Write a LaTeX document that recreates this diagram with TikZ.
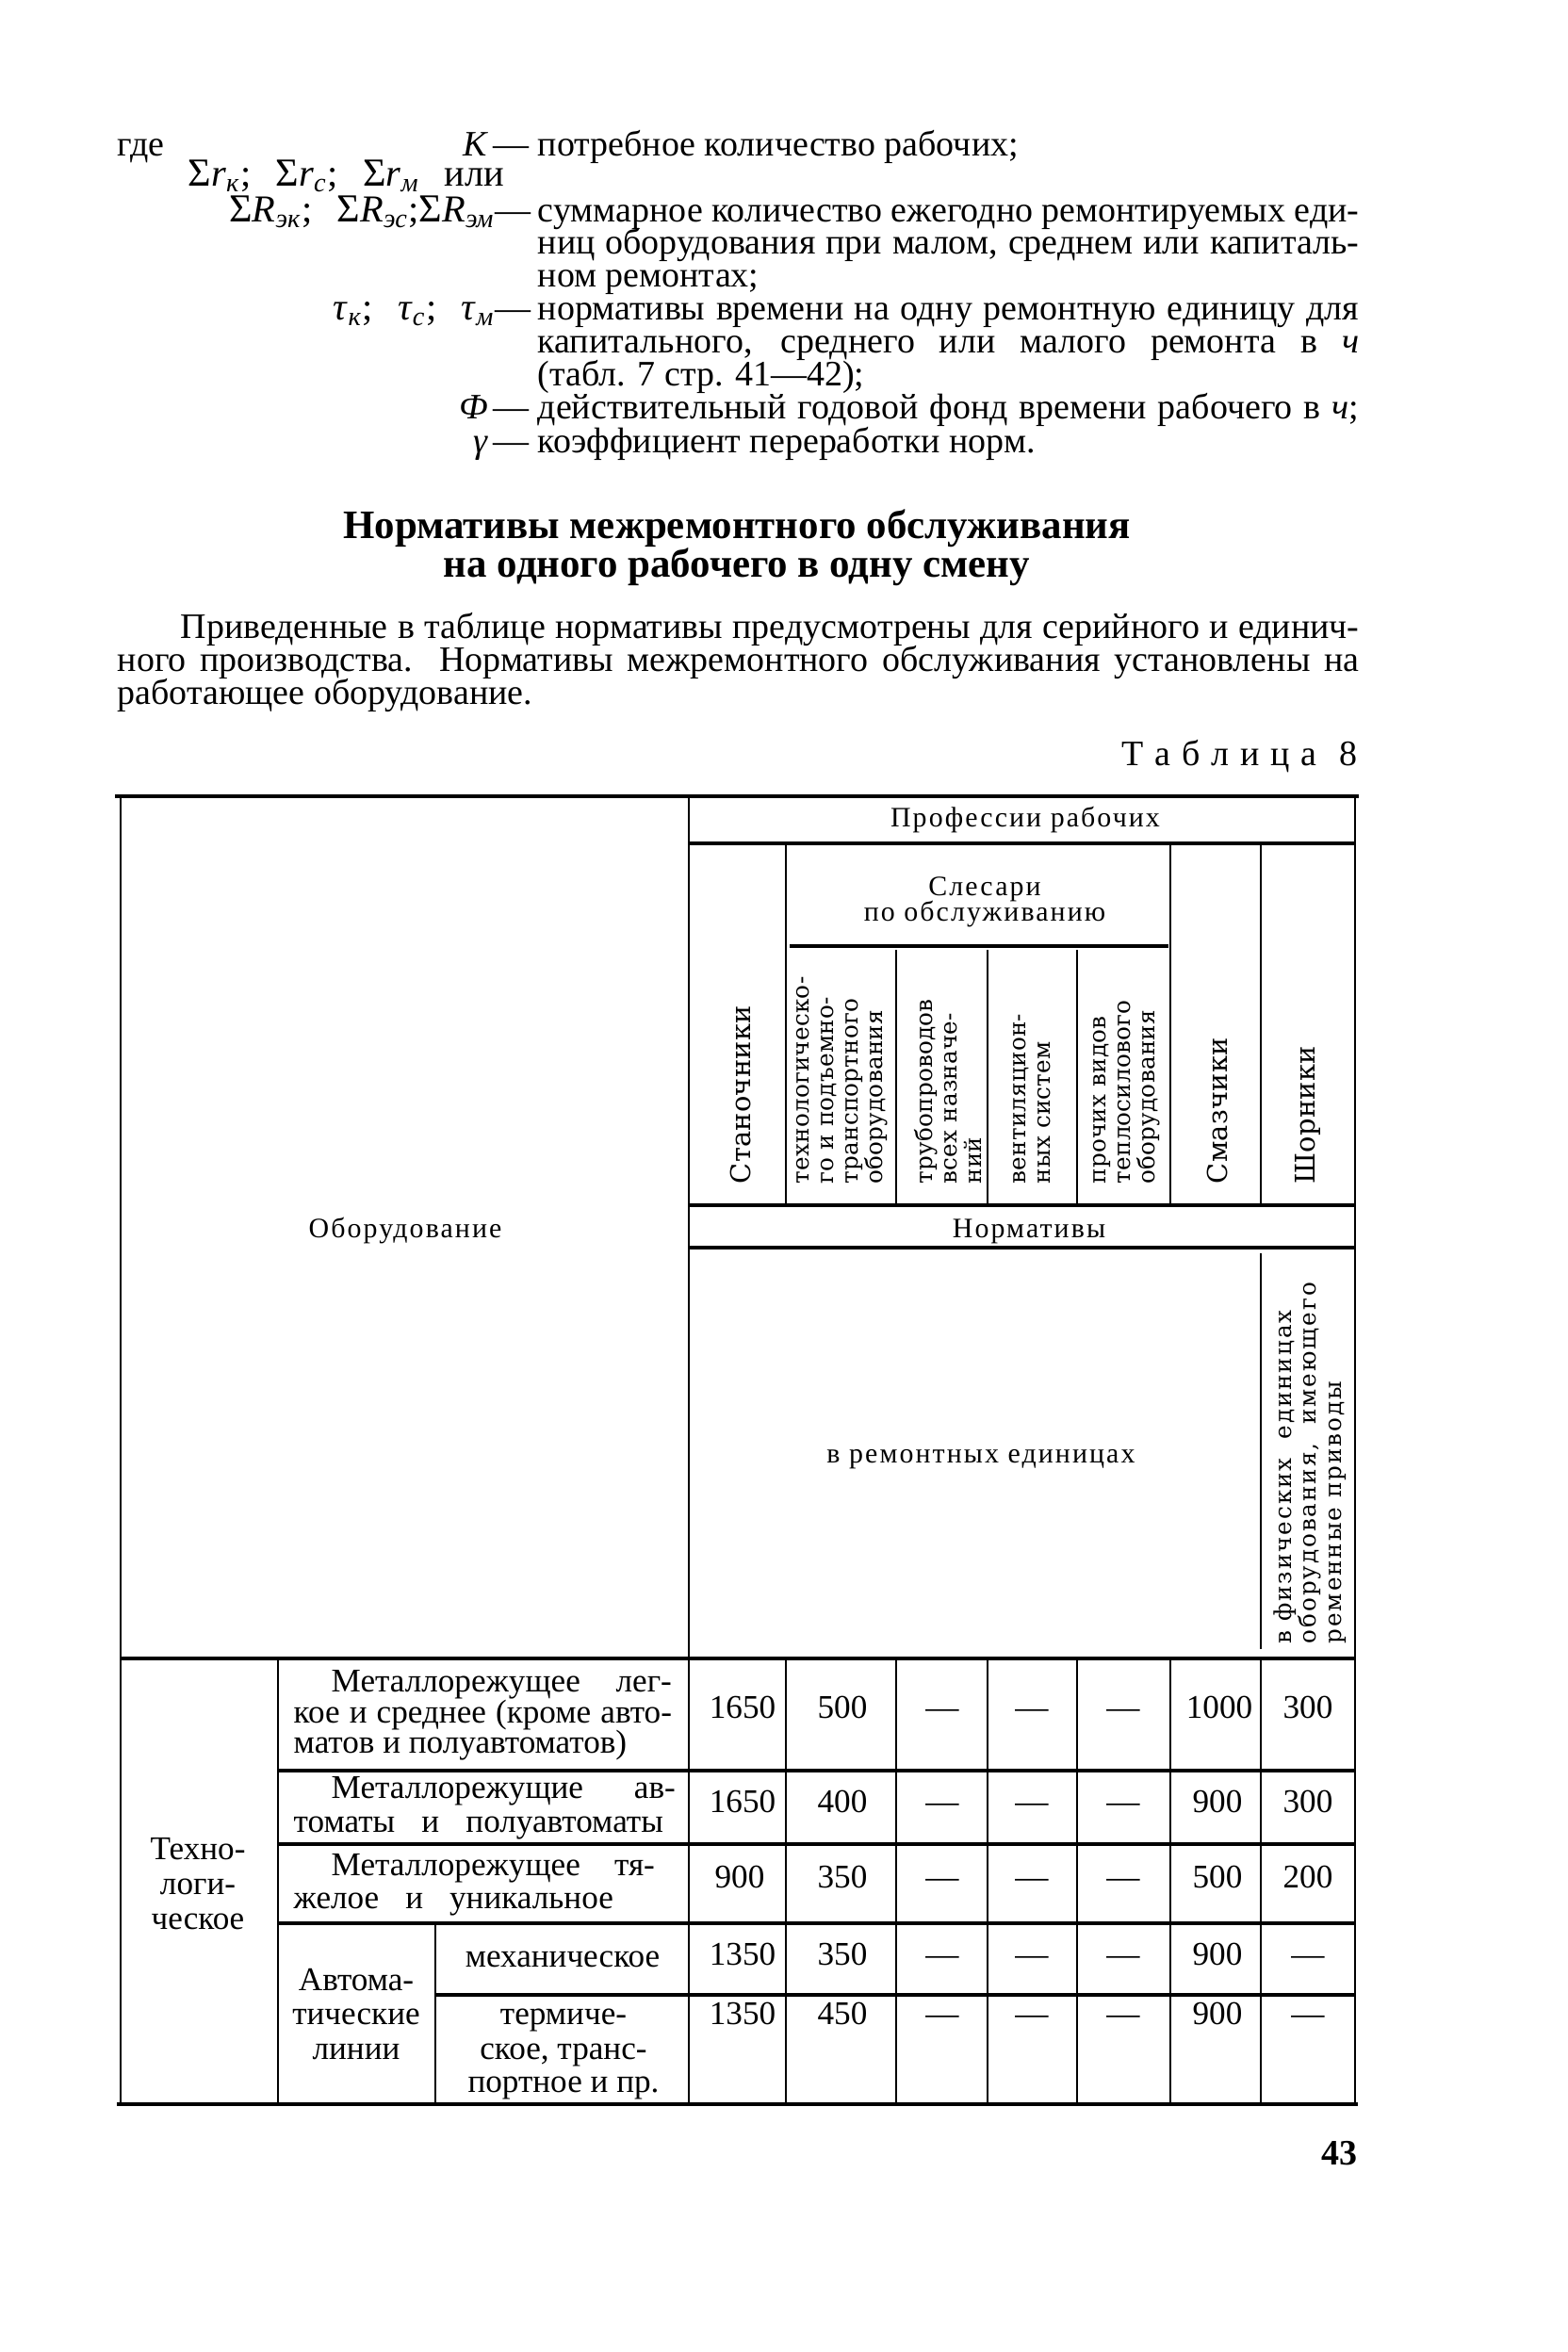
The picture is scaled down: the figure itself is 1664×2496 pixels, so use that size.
\documentclass[tikz,border=0pt]{standalone}
\usepackage{amsmath}
\usepackage{fontspec}
\setmainfont{Liberation Serif}
\newfontfamily\vertfont[LetterSpace=1]{DejaVu Serif}
\newfontfamily\vertwide[LetterSpace=8]{DejaVu Serif}
\newfontfamily\spaced[LetterSpace=7]{Liberation Serif}
\newcommand{\jl}[2]{\makebox[#1][s]{#2}}
\newcommand{\sig}{{\fontsize{12}{12}\selectfont Σ}}
\newcommand{\gap}{\hspace{0.65em}}

\begin{document}
\begin{tikzpicture}[x=0.01cm, y=-0.01cm,
  txt/.style={inner sep=0pt, anchor=base west, font=\fontsize{10.8}{12}\selectfont},
  rgt/.style={txt, anchor=base east},
  sym/.style={inner sep=0pt, anchor=base east, font=\fontsize{11.5}{12}\selectfont},
  head/.style={inner sep=0pt, anchor=base, font=\fontsize{12.2}{13}\selectfont\bfseries},
  hdr/.style={inner sep=0pt, anchor=base, font=\spaced\fontsize{8.5}{9}\selectfont},
  cell/.style={inner sep=0pt, anchor=base west, font=\fontsize{10}{11}\selectfont},
  num/.style={cell, anchor=base},
  vtxt/.style={inner sep=0pt, rotate=90, anchor=west, align=left, font=\vertfont\fontsize{7}{7.4}\selectfont},
  vbig/.style={vtxt, font=\vertfont\fontsize{8.2}{9}\selectfont},
  rule/.style={line width=1.1pt},
  thin/.style={line width=0.6pt}]
\fill[white] (0,0) rectangle (1664,2496);
\useasboundingbox (0,0) rectangle (1664,2496);

% definitions
\node[txt] (gde) at (124,165) {где};
\node[rgt] (kk) at (519,165) {\textit{К}};
\node[rgt] (d1) at (562,165) {—};
\node[txt] (t1) at (570,165) {потребное количество рабочих;};
\node[sym, anchor=base west] (sr) at (199,197) {\sig\textit{r}\textsubscript{\textit{к}};\gap\sig\textit{r}\textsubscript{\textit{с}};\gap\sig\textit{r}\textsubscript{\textit{м}}\gap или};
\node[sym] (sR) at (526,235) {\sig\textit{R}\textsubscript{\textit{эк}};\gap\sig\textit{R}\textsubscript{\textit{эс}};\sig\textit{R}\textsubscript{\textit{эм}}};
\node[rgt] (d2) at (564,235) {—};
\node[txt] (t2) at (570,235) {\jl{8.71cm}{суммарное количество ежегодно ремонтируемых еди-}};
\node[txt] (t3) at (570,269) {\jl{8.71cm}{ниц оборудования при малом, среднем или капиталь-}};
\node[txt] (t4) at (570,304) {ном ремонтах;};
\node[sym] (tau) at (526,339) {\textit{τ}\textsubscript{\textit{к}};\gap\textit{τ}\textsubscript{\textit{с}};\gap\textit{τ}\textsubscript{\textit{м}}};
\node[rgt] (d3) at (564,339) {—};
\node[txt] (t5) at (570,339) {\jl{8.71cm}{нормативы времени на одну ремонтную единицу для}};
\node[txt] (t6) at (570,374) {\jl{8.71cm}{капитального, среднего или малого ремонта в \textit{ч}}};
\node[txt] (t7) at (570,409) {(табл. 7 стр. 41—42);};
\node[rgt] (ff) at (519,444) {\textit{Ф}};
\node[rgt] (d4) at (562,444) {—};
\node[txt] (t8) at (570,444) {\jl{8.71cm}{действительный годовой фонд времени рабочего в \textit{ч};}};
\node[rgt] (gam) at (519,480) {\textit{γ}};
\node[rgt] (d5) at (562,480) {—};
\node[txt] (t9) at (570,480) {коэффициент переработки норм.};

% heading and paragraph
\node[head] (h1) at (782,571) {Нормативы межремонтного обслуживания};
\node[head] (h2) at (782,612) {на одного рабочего в одну смену};
\node[txt] (p1) at (191,677) {\jl{12.50cm}{Приведенные в таблице нормативы предусмотрены для серийного и единич-}};
\node[txt] (p2) at (124,712) {\jl{13.17cm}{ного производства. Нормативы межремонтного обслуживания установлены на}};
\node[txt] (p3) at (124,747) {работающее оборудование.};
\node[rgt] (tab) at (1441,812) {\jl{2.50cm}{Т а б л и ц а \ 8}};

% table rules
\draw[rule] (122,845) -- (1442,845);
\draw[thin] (128,845) -- (128,2233);
\draw[thin] (1438,845) -- (1438,2233);
\draw[thin] (731,845) -- (731,2233);
\draw[rule] (731,895) -- (1438,895);
\draw[thin] (834,895) -- (834,1279);
\draw[thin] (1242,895) -- (1242,1279);
\draw[thin] (1338,895) -- (1338,1279);
\draw[rule] (838,1004) -- (1240,1004);
\draw[thin] (951,1008) -- (951,1279);
\draw[thin] (1048,1008) -- (1048,1279);
\draw[thin] (1143,1008) -- (1143,1279);
\draw[rule] (731,1279) -- (1438,1279);
\draw[rule] (731,1324) -- (1438,1324);
\draw[thin] (1338,1330) -- (1338,1750);
\draw[rule] (128,1760) -- (1438,1760);
\draw[thin] (295,1760) -- (295,2233);
\draw[thin] (834,1760) -- (834,2233);
\draw[thin] (951,1760) -- (951,2233);
\draw[thin] (1048,1760) -- (1048,2233);
\draw[thin] (1143,1760) -- (1143,2233);
\draw[thin] (1242,1760) -- (1242,2233);
\draw[thin] (1338,1760) -- (1338,2233);
\draw[rule] (295,1879) -- (1438,1879);
\draw[rule] (295,1957) -- (1438,1957);
\draw[rule] (295,2041) -- (1438,2041);
\draw[thin] (462,2041) -- (462,2233);
\draw[rule] (462,2117) -- (1438,2117);
\draw[rule] (124,2233) -- (1441,2233);

% table head
\node[hdr] (prof) at (1088,877) {Профессии рабочих};
\node[hdr] (sles) at (1045,950) {Слесари};
\node[hdr] (obsl) at (1045,977) {по обслуживанию};
\node[vbig] (stan) at (786,1257) {Станочники};
\node[vtxt] (tehn) at (894,1257) {технологическо-\\го и подъемно-\\транспортного\\оборудования};
\node[vtxt] (trub) at (1006,1257) {трубопроводов\\всех назначе-\\ний};
\node[vtxt] (vent) at (1095,1257) {вентиляцион-\\ных систем};
\node[vtxt] (proch) at (1196,1257) {прочих видов\\теплосилового\\оборудования};
\node[vbig] (smaz) at (1292,1257) {Смазчики};
\node[vbig] (shor) at (1388,1257) {Шорники};
\node[hdr] (obor) at (430,1313) {Оборудование};
\node[hdr] (norm) at (1092,1313) {Нормативы};
\node[hdr] (remed) at (1041,1552) {в ремонтных единицах};
\node[vtxt, font=\vertwide\fontsize{7}{7.6}\selectfont] (fiz) at (1390,1745) {в физических \ единицах\\оборудования, \ имеющего\\ременные приводы};

% table body
\node[cell] (m1a) at (351,1795) {\jl{3.61cm}{Металлорежущее лег-}};
\node[cell] (m1b) at (311,1828) {\jl{4.01cm}{кое и среднее (кроме авто-}};
\node[cell] (m1c) at (311,1860) {матов и полуавтоматов)};
\node[cell] (m2a) at (351,1908) {\jl{3.65cm}{Металлорежущие ав-}};
\node[cell] (m2b) at (311,1944) {\jl{3.92cm}{томаты и полуавтоматы}};
\node[cell] (m3a) at (351,1990) {\jl{3.43cm}{Металлорежущее тя-}};
\node[cell] (m3b) at (311,2025) {\jl{3.39cm}{желое и уникальное}};
\node[num] (tex1) at (210,1973) {Техно-};
\node[num] (tex2) at (210,2010) {логи-};
\node[num] (tex3) at (210,2047) {ческое};
\node[num] (avt1) at (378,2112) {Автома-};
\node[num] (avt2) at (378,2148) {тические};
\node[num] (avt3) at (378,2185) {линии};
\node[num] (meh) at (597,2087) {механическое};
\node[num] (ter1) at (598,2148) {термиче-};
\node[num] (ter2) at (598,2185) {ское, транс-};
\node[num] (ter3) at (598,2220) {портное и пр.};

\node[num] (r1c1) at (788,1823) {1650};
\node[num] (r1c2) at (894,1823) {500};
\node[num] (r1c3) at (1000,1823) {—};
\node[num] (r1c4) at (1095,1823) {—};
\node[num] (r1c5) at (1192,1823) {—};
\node[num] (r1c6) at (1294,1823) {1000};
\node[num] (r1c7) at (1388,1823) {300};
\node[num] (r2c1) at (788,1923) {1650};
\node[num] (r2c2) at (894,1923) {400};
\node[num] (r2c3) at (1000,1923) {—};
\node[num] (r2c4) at (1095,1923) {—};
\node[num] (r2c5) at (1192,1923) {—};
\node[num] (r2c6) at (1292,1923) {900};
\node[num] (r2c7) at (1388,1923) {300};
\node[num] (r3c1) at (785,2003) {900};
\node[num] (r3c2) at (894,2003) {350};
\node[num] (r3c3) at (1000,2003) {—};
\node[num] (r3c4) at (1095,2003) {—};
\node[num] (r3c5) at (1192,2003) {—};
\node[num] (r3c6) at (1292,2003) {500};
\node[num] (r3c7) at (1388,2003) {200};
\node[num] (r4c1) at (788,2085) {1350};
\node[num] (r4c2) at (894,2085) {350};
\node[num] (r4c3) at (1000,2085) {—};
\node[num] (r4c4) at (1095,2085) {—};
\node[num] (r4c5) at (1192,2085) {—};
\node[num] (r4c6) at (1292,2085) {900};
\node[num] (r4c7) at (1388,2085) {—};
\node[num] (r5c1) at (788,2148) {1350};
\node[num] (r5c2) at (894,2148) {450};
\node[num] (r5c3) at (1000,2148) {—};
\node[num] (r5c4) at (1095,2148) {—};
\node[num] (r5c5) at (1192,2148) {—};
\node[num] (r5c6) at (1292,2148) {900};
\node[num] (r5c7) at (1388,2148) {—};

\node[rgt, font=\fontsize{10.8}{12}\selectfont\bfseries] (page) at (1441,2297) {43};
\end{tikzpicture}
\end{document}
